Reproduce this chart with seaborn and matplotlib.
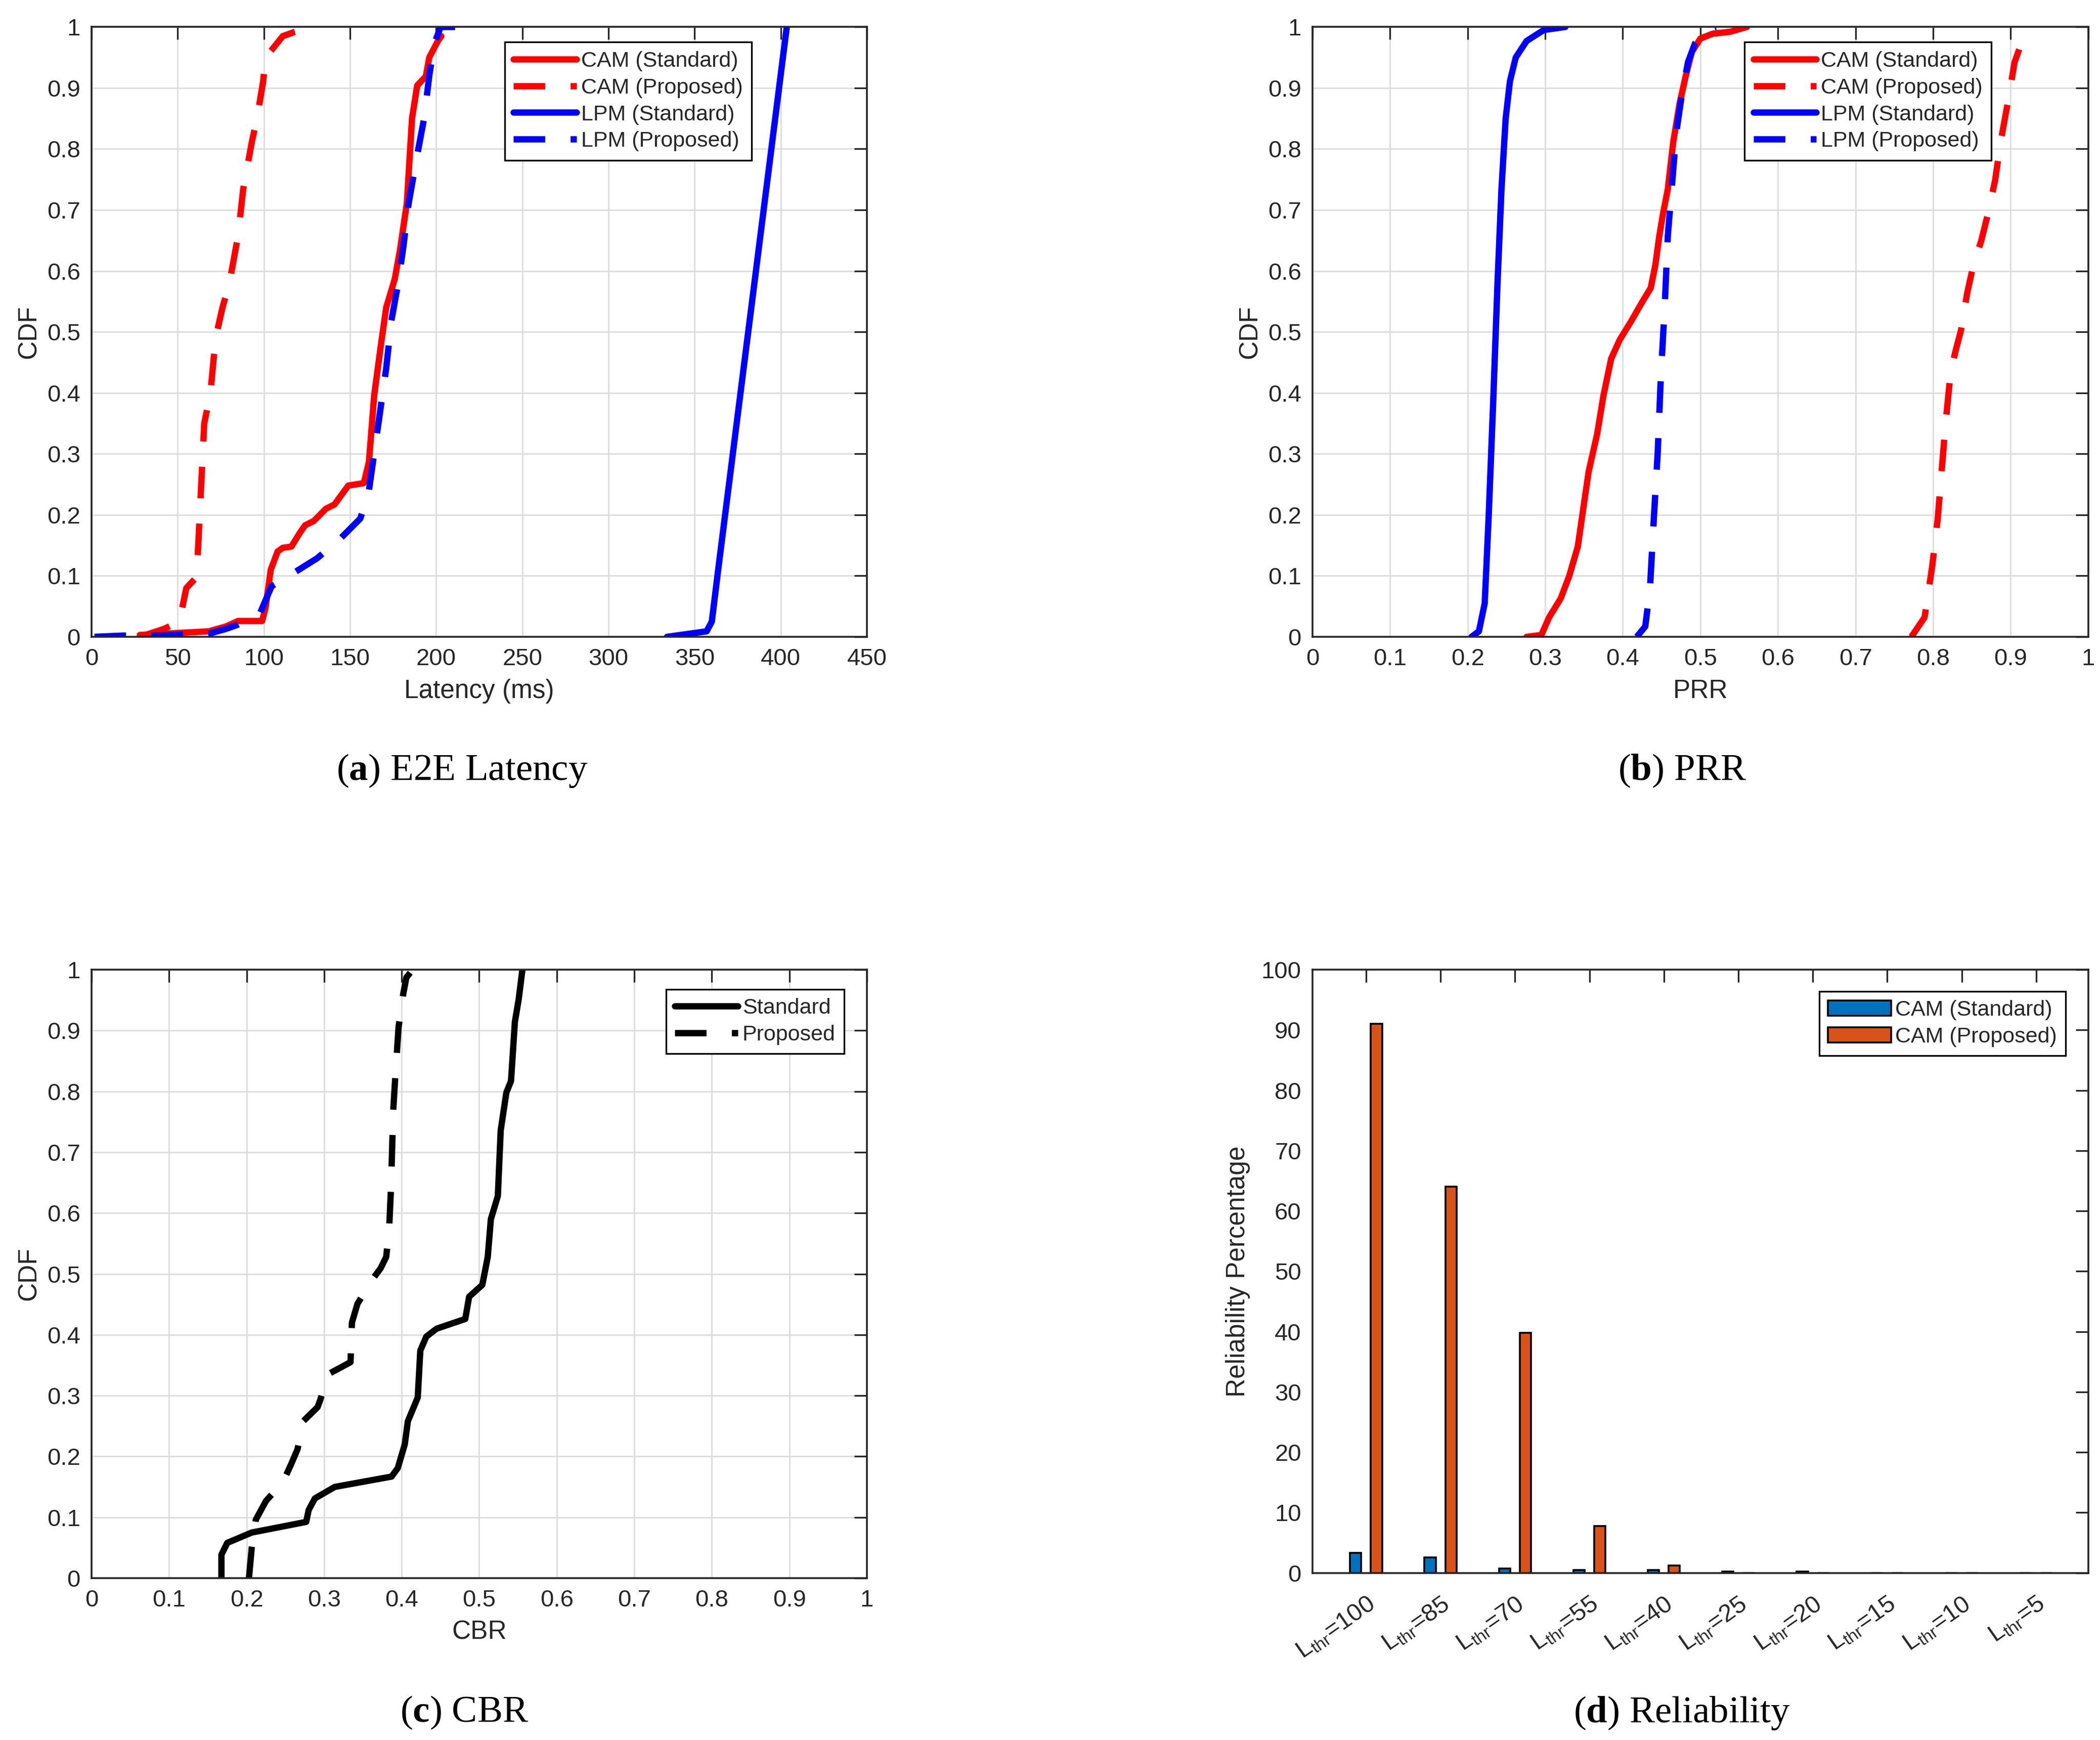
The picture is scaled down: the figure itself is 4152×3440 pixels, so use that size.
import numpy as np
import pandas as pd
import seaborn as sns
import matplotlib.pyplot as plt
from matplotlib.ticker import MultipleLocator, FuncFormatter

# ---------- (a) E2E latency CDF ----------
lat_cam_std_x = [28, 68, 78, 85, 99, 101, 104, 108, 111, 116, 121, 124, 129, 136, 141, 149, 158, 161,
                 164, 168, 171, 176, 179, 183, 186, 189, 194, 196, 201, 203]
lat_cam_std_y = [0.003, 0.009, 0.017, 0.026, 0.026, 0.048, 0.11, 0.14, 0.146, 0.148, 0.171, 0.183, 0.19,
                 0.21, 0.217, 0.248, 0.252, 0.287, 0.395, 0.48, 0.54, 0.587, 0.634, 0.711, 0.85, 0.904,
                 0.919, 0.95, 0.977, 0.985]
lat_cam_prop_x = [28, 42, 51, 55, 61, 62, 64, 65.4, 69, 72, 76, 80, 85, 88, 93, 96, 99.6, 101, 111, 118, 128]
lat_cam_prop_y = [0.0, 0.013, 0.025, 0.08, 0.098, 0.156, 0.27, 0.35, 0.40, 0.49, 0.54, 0.58, 0.657, 0.734,
                  0.811, 0.85, 0.911, 0.95, 0.985, 0.992, 1.0]
lat_lpm_std_x = [334, 357, 360, 364, 403.5]
lat_lpm_std_y = [0.0, 0.009, 0.025, 0.117, 1.0]
lat_lpm_prop_x = [1.7, 18, 35, 68, 78, 85, 98, 101, 104.5, 118, 131, 144, 156, 161, 164, 168, 171, 174,
                  178, 181, 184, 189, 193, 196, 199, 202.6, 211]
lat_lpm_prop_y = [0.0, 0.002, 0.002, 0.005, 0.013, 0.02, 0.04, 0.06, 0.083, 0.106, 0.129, 0.16, 0.194,
                  0.24, 0.30, 0.38, 0.44, 0.518, 0.58, 0.64, 0.71, 0.79, 0.85, 0.92, 0.973, 1.0, 1.0]

# ---------- (b) PRR CDF ----------
prr_cam_std_x = [0.276, 0.295, 0.305, 0.32, 0.331, 0.342, 0.349, 0.356, 0.367, 0.375, 0.385, 0.396, 0.411,
                 0.425, 0.436, 0.442, 0.447, 0.452, 0.458, 0.465, 0.473, 0.481, 0.489, 0.5, 0.516, 0.538, 0.56]
prr_cam_std_y = [0.0, 0.003, 0.032, 0.063, 0.10, 0.148, 0.21, 0.271, 0.333, 0.395, 0.456, 0.487, 0.518,
                 0.549, 0.572, 0.61, 0.657, 0.695, 0.734, 0.811, 0.873, 0.919, 0.959, 0.981, 0.989, 0.992, 1.0]
prr_cam_prop_x = [0.772, 0.789, 0.799, 0.806, 0.811, 0.816, 0.822, 0.828, 0.836, 0.844, 0.852, 0.862, 0.871,
                  0.88, 0.887, 0.898, 0.905, 0.916, 0.925]
prr_cam_prop_y = [0.0, 0.032, 0.117, 0.194, 0.271, 0.349, 0.426, 0.464, 0.503, 0.564, 0.61, 0.649, 0.695,
                  0.749, 0.811, 0.888, 0.942, 0.981, 1.0]
prr_lpm_std_x = [0.205, 0.2145, 0.222, 0.227, 0.233, 0.2385, 0.2436, 0.249, 0.2545, 0.262, 0.276, 0.298, 0.326]
prr_lpm_std_y = [0.0, 0.009, 0.055, 0.194, 0.387, 0.58, 0.734, 0.85, 0.911, 0.95, 0.977, 0.995, 1.0]
prr_lpm_prop_x = [0.418, 0.429, 0.435, 0.44, 0.445, 0.449, 0.454, 0.458, 0.463, 0.469, 0.476, 0.484, 0.493,
                  0.509, 0.52]
prr_lpm_prop_y = [0.0, 0.017, 0.079, 0.194, 0.302, 0.426, 0.541, 0.657, 0.734, 0.827, 0.888, 0.942, 0.973,
                  0.996, 1.0]

# ---------- (c) CBR CDF ----------
cbr_std_x = [0.1675, 0.1675, 0.175, 0.2066, 0.2768, 0.28, 0.288, 0.3137, 0.387, 0.395, 0.404, 0.408, 0.4207,
             0.424, 0.4317, 0.445, 0.482, 0.487, 0.504, 0.511, 0.515, 0.524, 0.5277, 0.535, 0.541, 0.546,
             0.551, 0.5557]
cbr_std_y = [0.0, 0.0386, 0.058, 0.075, 0.0925, 0.112, 0.131, 0.150, 0.167, 0.181, 0.22, 0.258, 0.297,
             0.374, 0.397, 0.41, 0.426, 0.4626, 0.482, 0.528, 0.59, 0.628, 0.736, 0.798, 0.817, 0.914,
             0.952, 1.0]
cbr_prop_x = [0.203, 0.2066, 0.2118, 0.225, 0.247, 0.258, 0.2657, 0.273, 0.2915, 0.295, 0.3048, 0.334,
              0.3358, 0.343, 0.3616, 0.3727, 0.38, 0.3838, 0.386, 0.3875, 0.389, 0.392, 0.396, 0.402,
              0.406, 0.411]
cbr_prop_y = [0.0, 0.05, 0.096, 0.127, 0.158, 0.189, 0.212, 0.258, 0.281, 0.293, 0.335, 0.355, 0.42, 0.451,
              0.49, 0.509, 0.528, 0.574, 0.636, 0.698, 0.767, 0.829, 0.906, 0.96, 0.987, 0.995]

# ---------- (d) Reliability ----------
thr_values = ['100', '85', '70', '55', '40', '25', '20', '15', '10', '5']
rel_standard = [3.3, 2.6, 0.7, 0.5, 0.45, 0.2, 0.2, 0.0, 0.0, 0.0]
rel_proposed = [91.0, 64.0, 39.8, 7.8, 1.2, 0.0, 0.0, 0.0, 0.0, 0.0]

# ---------- style ----------
sns.set_style('white')
plt.rcParams['font.family'] = ['Liberation Sans', 'DejaVu Sans']
plt.rcParams['mathtext.fontset'] = 'custom'
plt.rcParams['mathtext.rm'] = 'Liberation Sans'
plt.rcParams['mathtext.it'] = 'Liberation Sans'
plt.rcParams['mathtext.bf'] = 'Liberation Serif:bold'
plt.rcParams['lines.dashed_pattern'] = [5.0, 4.0]

LW = 4.5
TXT = '#262626'
fmt = FuncFormatter(lambda v, p: f'{v:g}')


def style_axes(ax, grid=True):
    for s in ax.spines.values():
        s.set_visible(True)
        s.set_color(TXT)
        s.set_linewidth(1.3)
    ax.tick_params(direction='in', top=True, right=True, length=9, width=1.2,
                   colors=TXT, labelsize=17, pad=8)
    if grid:
        ax.grid(True, color='#dcdcdc', linewidth=1.0)
        ax.set_axisbelow(True)


def cdf_panel(ax, series, xlabel, xmax, xstep):
    for x, y, color, ls, label in series:
        sns.lineplot(x=x, y=y, sort=False, estimator=None, color=color, linestyle=ls,
                     linewidth=LW, label=label, ax=ax)
    ax.set_xlim(0, xmax)
    ax.set_ylim(0, 1)
    ax.xaxis.set_major_locator(MultipleLocator(xstep))
    ax.yaxis.set_major_locator(MultipleLocator(0.1))
    ax.xaxis.set_major_formatter(fmt)
    ax.yaxis.set_major_formatter(fmt)
    ax.set_xlabel(xlabel, fontsize=18.5, color=TXT, labelpad=6)
    ax.set_ylabel('CDF', fontsize=18.5, color=TXT, labelpad=4)
    style_axes(ax)


def legend(ax, anchor):
    leg = ax.legend(loc='upper left', bbox_to_anchor=anchor, fontsize=15.5, frameon=True,
                    fancybox=False, framealpha=1, edgecolor='black', handlelength=2.9,
                    borderpad=0.4, labelspacing=0.3, handletextpad=0.2, borderaxespad=0)
    leg.get_frame().set_linewidth(1.2)
    return leg


fig = plt.figure(figsize=(20.76, 17.2), dpi=200)
ax_a = fig.add_axes([0.0436, 0.634, 0.3692, 0.3505])
ax_b = fig.add_axes([0.625, 0.634, 0.3694, 0.3505])
ax_c = fig.add_axes([0.0436, 0.093, 0.3692, 0.3497])
ax_d = fig.add_axes([0.625, 0.096, 0.3694, 0.3467])

cdf_panel(ax_a, [
    (lat_cam_std_x, lat_cam_std_y, 'red', '-', 'CAM (Standard)'),
    (lat_cam_prop_x, lat_cam_prop_y, 'red', '--', 'CAM (Proposed)'),
    (lat_lpm_std_x, lat_lpm_std_y, 'blue', '-', 'LPM (Standard)'),
    (lat_lpm_prop_x, lat_lpm_prop_y, 'blue', '--', 'LPM (Proposed)'),
], 'Latency (ms)', 450, 50)
legend(ax_a, (0.533, 0.975))

cdf_panel(ax_b, [
    (prr_cam_std_x, prr_cam_std_y, 'red', '-', 'CAM (Standard)'),
    (prr_cam_prop_x, prr_cam_prop_y, 'red', '--', 'CAM (Proposed)'),
    (prr_lpm_std_x, prr_lpm_std_y, 'blue', '-', 'LPM (Standard)'),
    (prr_lpm_prop_x, prr_lpm_prop_y, 'blue', '--', 'LPM (Proposed)'),
], 'PRR', 1, 0.1)
legend(ax_b, (0.557, 0.975))

cdf_panel(ax_c, [
    (cbr_std_x, cbr_std_y, 'black', '-', 'Standard'),
    (cbr_prop_x, cbr_prop_y, 'black', '--', 'Proposed'),
], 'CBR', 1, 0.1)
legend(ax_c, (0.741, 0.968))

# bar chart
df_rel = pd.DataFrame({
    'thr': [rf'L$_{{thr}}$={t}' for t in thr_values] * 2,
    'value': rel_standard + rel_proposed,
    'series': ['CAM (Standard)'] * len(thr_values) + ['CAM (Proposed)'] * len(thr_values),
})
sns.barplot(data=df_rel, x='thr', y='value', hue='series',
            palette=['#0072BD', '#D95319'], width=0.56, gap=0.46,
            edgecolor='black', linewidth=1.3, saturation=1, ax=ax_d)
ax_d.set_xlim(-0.72, 9.7)
ax_d.set_ylim(0, 100)
ax_d.yaxis.set_major_locator(MultipleLocator(10))
ax_d.set_xlabel('')
ax_d.set_ylabel('Reliability Percentage', fontsize=18.5, color=TXT, labelpad=8)
style_axes(ax_d, grid=False)
ax_d.tick_params(axis='x', pad=14)
for lbl in ax_d.get_xticklabels():
    lbl.set_rotation(35)
    lbl.set_ha('right')
    lbl.set_rotation_mode('anchor')
    lbl.set_fontsize(17.5)
legend(ax_d, (0.653, 0.964))

# captions
cap = dict(fontsize=27, family=['Liberation Serif', 'DejaVu Serif'], color='black',
           ha='center', va='center')
fig.text(0.22, 0.557, r'($\mathbf{a}$) E2E Latency', **cap)
fig.text(0.801, 0.557, r'($\mathbf{b}$) PRR', **cap)
fig.text(0.221, 0.0155, r'($\mathbf{c}$) CBR', **cap)
fig.text(0.801, 0.0155, r'($\mathbf{d}$) Reliability', **cap)

fig.savefig('out.png', dpi=200, facecolor='white')
